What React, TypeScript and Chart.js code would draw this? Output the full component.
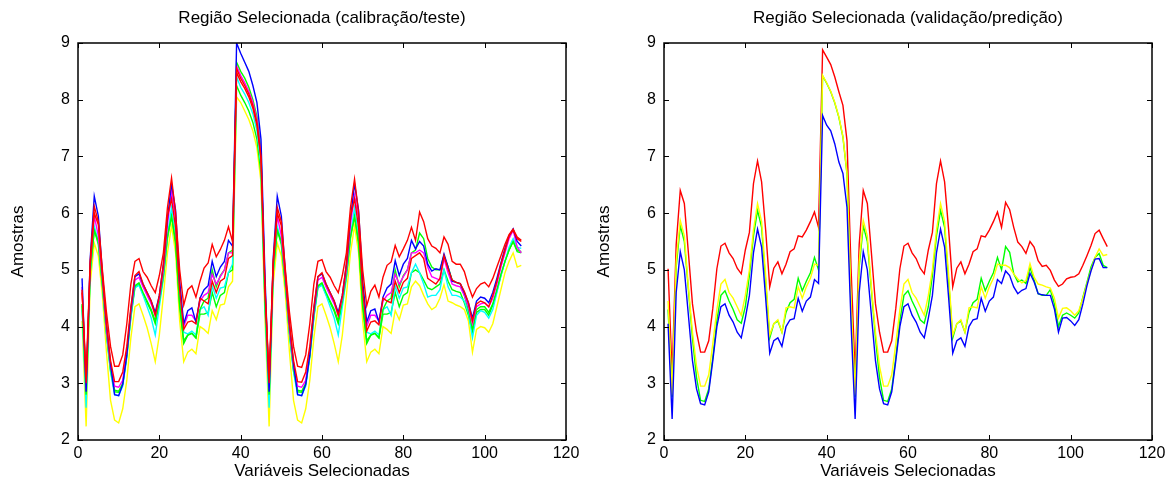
import React, { useEffect, useRef } from 'react';
import { Chart, registerables } from 'chart.js';

Chart.register(...registerables);

const FONT = '"Liberation Sans", Arial, Helvetica, sans-serif';

const variaveis = [
  1, 2, 3, 4, 5, 6, 7, 8, 9, 10, 11, 12, 13, 14, 15, 16, 17, 18, 19, 20,
  21, 22, 23, 24, 25, 26, 27, 28, 29, 30, 31, 32, 33, 34, 35, 36, 37, 38, 39, 40,
  41, 42, 43, 44, 45, 46, 47, 48, 49, 50, 51, 52, 53, 54, 55, 56, 57, 58, 59, 60,
  61, 62, 63, 64, 65, 66, 67, 68, 69, 70, 71, 72, 73, 74, 75, 76, 77, 78, 79, 80,
  81, 82, 83, 84, 85, 86, 87, 88, 89, 90, 91, 92, 93, 94, 95, 96, 97, 98, 99, 100,
  101, 102, 103, 104, 105, 106, 107, 108, 109,
];

const xTicks = [0, 20, 40, 60, 80, 100, 120];
const yTicks = [2, 3, 4, 5, 6, 7, 8, 9];

// ---- Left panel: calibração/teste ----
const calRed1 = [
  4.65, 3.1, 5.15, 6.12, 5.85, 5.0, 4.25, 3.65, 3.3, 3.3, 3.5, 4.05, 4.75, 5.15, 5.2, 4.97, 4.87, 4.72, 4.6, 4.9,
  5.3, 6.1, 6.62, 6.0, 5.0, 4.38, 4.65, 4.72, 4.52, 4.8, 5.03, 5.12, 5.45, 5.23, 5.36, 5.52, 5.76, 5.5,
  8.55, 8.38, 8.25, 8.1, 7.9, 7.6, 7.0,
  4.65, 3.1, 5.15, 6.1, 5.85, 5.0, 4.25, 3.65, 3.3, 3.28, 3.5, 4.05, 4.75, 5.15, 5.18, 4.97, 4.87, 4.72, 4.6, 4.9,
  5.3, 6.1, 6.6, 6.0, 5.0, 4.37, 4.62, 4.73, 4.52, 4.87, 5.08, 5.14, 5.43, 5.23, 5.37, 5.52, 5.75, 5.52,
  6.02, 5.85, 5.55, 5.42, 5.38, 5.3, 5.58, 5.45, 5.15, 5.1, 5.1, 4.97, 4.72, 4.52, 4.67, 4.75, 4.78, 4.7, 4.85, 5.05,
  5.25, 5.45, 5.62, 5.72, 5.58, 5.52,
];
const calRed2 = [
  4.6, 3.0, 5.1, 6.0, 5.8, 4.9, 4.05, 3.4, 3.03, 3.03, 3.2, 3.65, 4.35, 4.9, 4.97, 4.75, 4.6, 4.45, 4.2, 4.55,
  5.1, 5.95, 6.25, 5.75, 4.65, 3.95, 4.08, 4.1, 4.05, 4.5, 4.45, 4.4, 4.8, 4.6, 4.8, 4.85, 5.2, 5.25,
  8.48, 8.32, 8.2, 8.05, 7.85, 7.55, 6.95,
  4.6, 3.0, 5.1, 6.0, 5.78, 4.9, 4.05, 3.4, 3.03, 3.02, 3.2, 3.65, 4.35, 4.88, 4.95, 4.75, 4.6, 4.45, 4.2, 4.55,
  5.1, 5.95, 6.25, 5.75, 4.65, 3.92, 4.08, 4.1, 4.03, 4.5, 4.45, 4.42, 4.8, 4.6, 4.78, 4.85, 5.2, 5.25,
  5.3, 5.2, 4.85, 4.8, 4.75, 4.85, 5.25, 5.02, 4.82, 4.78, 4.76, 4.62, 4.42, 4.1, 4.4, 4.45, 4.42, 4.35, 4.55, 4.8,
  5.1, 5.35, 5.6, 5.7, 5.55, 5.5,
];
const calBlue = [
  4.85, 2.85, 5.2, 6.3, 5.95, 4.95, 4.05, 3.35, 2.8, 2.78, 2.98, 3.5, 4.3, 4.88, 4.93, 4.75, 4.6, 4.45, 4.25, 4.55,
  5.1, 5.9, 6.52, 6.05, 4.8, 4.05, 4.28, 4.33, 4.08, 4.5, 4.65, 4.72, 5.15, 4.88, 5.05, 5.15, 5.52, 5.42,
  9.0, 8.82, 8.66, 8.5, 8.25, 7.95, 7.3,
  4.85, 2.85, 5.2, 6.3, 5.95, 4.95, 4.05, 3.35, 2.8, 2.78, 2.98, 3.5, 4.3, 4.88, 4.93, 4.75, 4.6, 4.45, 4.25, 4.55,
  5.1, 5.9, 6.52, 6.05, 4.8, 4.08, 4.28, 4.31, 4.08, 4.52, 4.68, 4.75, 5.16, 4.9, 5.1, 5.2, 5.52, 5.37,
  5.5, 5.42, 5.1, 4.98, 5.02, 5.0, 5.28, 5.05, 4.8, 4.78, 4.76, 4.6, 4.42, 4.15, 4.45, 4.52, 4.5, 4.42, 4.6, 4.85,
  5.12, 5.38, 5.6, 5.72, 5.5, 5.42,
];
const calMagenta = [
  4.7, 2.9, 5.1, 5.95, 5.6, 4.85, 3.95, 3.3, 2.95, 2.93, 3.05, 3.55, 4.25, 4.82, 4.87, 4.7, 4.55, 4.4, 4.2, 4.5,
  5.0, 5.8, 6.37, 5.9, 4.7, 4.0, 4.2, 4.2, 4.1, 4.45, 4.55, 4.6, 4.92, 4.75, 4.88, 5.0, 5.3, 5.3,
  8.6, 8.43, 8.3, 8.15, 7.95, 7.65, 7.05,
  4.7, 2.9, 5.1, 5.95, 5.6, 4.85, 3.95, 3.3, 2.95, 2.93, 3.05, 3.55, 4.25, 4.82, 4.87, 4.7, 4.55, 4.4, 4.2, 4.5,
  5.0, 5.8, 6.31, 5.9, 4.7, 4.0, 4.2, 4.2, 4.1, 4.45, 4.55, 4.6, 4.92, 4.75, 4.88, 5.0, 5.3, 5.3,
  5.35, 5.3, 5.05, 4.88, 4.85, 4.82, 5.2, 4.95, 4.75, 4.72, 4.7, 4.55, 4.35, 4.05, 4.35, 4.4, 4.42, 4.35, 4.5, 4.75,
  5.05, 5.3, 5.55, 5.7, 5.4, 5.3,
];
const calGreen1 = [
  4.4, 2.8, 5.0, 5.7, 5.5, 4.75, 3.9, 3.25, 2.88, 2.86, 3.0, 3.5, 4.2, 4.72, 4.77, 4.6, 4.45, 4.3, 4.1, 4.45,
  4.9, 5.6, 5.94, 5.5, 4.4, 3.75, 3.85, 3.88, 3.8, 4.3, 4.45, 4.5, 5.0, 4.7, 4.9, 5.0, 5.3, 5.35,
  8.66, 8.5, 8.38, 8.22, 8.0, 7.7, 7.1,
  4.4, 2.8, 5.0, 5.7, 5.5, 4.75, 3.9, 3.25, 2.88, 2.86, 3.0, 3.5, 4.2, 4.72, 4.77, 4.6, 4.45, 4.3, 4.1, 4.45,
  4.9, 5.6, 5.93, 5.5, 4.4, 3.75, 3.85, 3.88, 3.8, 4.3, 4.45, 4.5, 5.0, 4.7, 4.9, 5.0, 5.3, 5.35,
  5.65, 5.55, 5.2, 5.05, 5.0, 5.0, 5.25, 5.05, 4.82, 4.78, 4.75, 4.55, 4.3, 3.95, 4.3, 4.35, 4.35, 4.25, 4.4, 4.65,
  4.92, 5.15, 5.35, 5.5, 5.35, 5.32,
];
const calGreen2 = [
  4.37, 2.76, 4.95, 5.7, 5.45, 4.72, 3.88, 3.22, 2.85, 2.84, 2.98, 3.48, 4.18, 4.7, 4.74, 4.57, 4.42, 4.27, 4.05, 4.42,
  4.88, 5.55, 5.96, 5.45, 4.35, 3.7, 3.85, 3.88, 3.8, 4.22, 4.22, 4.25, 4.6, 4.35, 4.55, 4.6, 4.95, 5.0,
  8.25, 8.08, 7.95, 7.8, 7.6, 7.3, 6.7,
  4.37, 2.76, 4.95, 5.7, 5.45, 4.72, 3.88, 3.22, 2.85, 2.84, 2.98, 3.48, 4.18, 4.7, 4.74, 4.57, 4.42, 4.27, 4.05, 4.42,
  4.88, 5.55, 5.96, 5.45, 4.35, 3.7, 3.85, 3.88, 3.8, 4.22, 4.22, 4.25, 4.6, 4.35, 4.55, 4.6, 4.95, 5.0,
  4.95, 4.82, 4.68, 4.65, 4.7, 4.75, 5.0, 4.8, 4.65, 4.62, 4.6, 4.42, 4.2, 3.9, 4.25, 4.3, 4.3, 4.2, 4.38, 4.62,
  4.9, 5.15, 5.35, 5.5, 5.32, 5.3,
];
const calCyan = [
  4.3, 2.57, 4.95, 5.77, 5.5, 4.75, 3.85, 3.2, 2.8, 2.78, 2.95, 3.45, 4.15, 4.68, 4.73, 4.55, 4.35, 4.15, 3.85, 4.35,
  4.85, 5.6, 6.1, 5.6, 4.5, 3.9, 3.87, 3.92, 3.85, 4.3, 4.35, 4.2, 4.72, 4.5, 4.68, 4.7, 4.95, 5.1,
  8.4, 8.22, 8.1, 7.95, 7.75, 7.45, 6.85,
  4.3, 2.57, 4.95, 5.77, 5.5, 4.75, 3.85, 3.2, 2.8, 2.78, 2.95, 3.45, 4.15, 4.68, 4.73, 4.55, 4.35, 4.15, 3.85, 4.35,
  4.85, 5.6, 6.1, 5.6, 4.5, 3.9, 3.87, 3.92, 3.85, 4.3, 4.35, 4.2, 4.72, 4.5, 4.68, 4.7, 4.95, 5.1,
  4.95, 4.75, 4.52, 4.55, 4.55, 4.65, 5.0, 4.7, 4.55, 4.55, 4.52, 4.45, 4.25, 3.8, 4.2, 4.28, 4.25, 4.15, 4.3, 4.6,
  4.9, 5.15, 5.4, 5.55, 5.4, 5.38,
];
const calYellow = [
  4.1, 2.24, 4.75, 5.47, 5.25, 4.55, 3.55, 2.7, 2.35, 2.3, 2.55, 3.05, 3.8, 4.35, 4.4, 4.2, 3.98, 3.7, 3.38, 3.85,
  4.55, 5.3, 5.78, 5.3, 4.1, 3.38, 3.55, 3.6, 3.52, 4.0, 3.95, 3.88, 4.28, 4.12, 4.38, 4.4, 4.7, 4.8,
  8.05, 7.95, 7.8, 7.65, 7.45, 7.15, 6.55,
  4.1, 2.24, 4.75, 5.47, 5.25, 4.55, 3.55, 2.7, 2.35, 2.3, 2.55, 3.05, 3.8, 4.35, 4.4, 4.2, 3.98, 3.7, 3.38, 3.85,
  4.55, 5.3, 5.78, 5.3, 4.1, 3.38, 3.55, 3.6, 3.52, 4.0, 3.95, 3.88, 4.28, 4.12, 4.38, 4.4, 4.7, 4.8,
  4.72, 4.55, 4.4, 4.3, 4.35, 4.5, 4.74, 4.45, 4.42, 4.38, 4.35, 4.3, 4.1, 3.55, 3.95, 4.0, 3.98, 3.9, 4.05, 4.35,
  4.65, 4.95, 5.15, 5.3, 5.05, 5.08,
];

// ---- Right panel: validação/predição ----
const valRed = [
  5.02, 3.16, 5.45, 6.4, 6.17, 5.3, 4.4, 3.9, 3.55, 3.55, 3.75, 4.32, 5.02, 5.42, 5.47, 5.3, 5.2, 5.03, 4.93, 5.35,
  5.66, 6.52, 6.92, 6.55, 5.7, 4.7, 5.03, 5.14, 4.93, 5.1, 5.32, 5.37, 5.6, 5.58, 5.7, 5.85, 6.02, 5.75,
  8.88, 8.75, 8.62, 8.4, 8.14, 7.9, 7.28,
  5.02, 3.16, 5.45, 6.4, 6.17, 5.3, 4.4, 3.9, 3.55, 3.55, 3.75, 4.32, 5.02, 5.42, 5.47, 5.3, 5.2, 5.03, 4.93, 5.35,
  5.66, 6.52, 6.92, 6.55, 5.7, 4.7, 5.03, 5.14, 4.93, 5.1, 5.32, 5.37, 5.6, 5.58, 5.7, 5.85, 6.02, 5.75,
  6.19, 6.06, 5.75, 5.49, 5.41, 5.29, 5.5, 5.4, 5.16, 5.06, 5.08, 4.99, 4.82, 4.71, 4.75, 4.84, 4.87, 4.88, 4.93, 5.08,
  5.25, 5.43, 5.64, 5.7, 5.55, 5.41,
];
const valYellow = [
  4.45, 2.8, 5.15, 5.87, 5.6, 4.7, 3.9, 3.3, 2.95, 2.95, 3.15, 3.7, 4.3, 4.75, 4.83, 4.6, 4.5, 4.35, 4.2, 4.55,
  5.0, 5.7, 6.17, 5.85, 4.9, 3.85, 4.05, 4.12, 3.9, 4.33, 4.35, 4.33, 4.7, 4.5, 4.7, 4.85, 5.1, 5.08,
  8.43, 8.3, 8.15, 7.95, 7.7, 7.35, 6.7,
  4.45, 2.8, 5.15, 5.87, 5.6, 4.7, 3.9, 3.3, 2.95, 2.95, 3.15, 3.7, 4.3, 4.75, 4.83, 4.6, 4.5, 4.35, 4.2, 4.55,
  5.0, 5.7, 6.17, 5.85, 4.9, 3.85, 4.05, 4.12, 3.9, 4.33, 4.35, 4.33, 4.7, 4.5, 4.7, 4.85, 5.1, 5.08,
  5.08, 5.04, 4.93, 4.84, 4.77, 4.81, 5.11, 4.87, 4.75, 4.73, 4.7, 4.68, 4.5, 4.15, 4.32, 4.33, 4.28, 4.2, 4.28, 4.5,
  4.75, 4.99, 5.22, 5.37, 5.25, 5.27,
];
const valGreen = [
  4.3, 2.76, 5.05, 5.78, 5.5, 4.65, 3.8, 3.1, 2.7, 2.68, 2.9, 3.45, 4.1, 4.55, 4.63, 4.45, 4.3, 4.12, 4.06, 4.35,
  4.9, 5.6, 6.05, 5.75, 4.8, 3.8, 4.05, 4.1, 3.9, 4.25, 4.42, 4.48, 4.85, 4.63, 4.8, 4.95, 5.22, 5.0,
  8.42, 8.29, 8.14, 7.94, 7.69, 7.34, 6.69,
  4.3, 2.76, 5.05, 5.78, 5.5, 4.65, 3.8, 3.1, 2.7, 2.68, 2.9, 3.45, 4.1, 4.55, 4.63, 4.45, 4.3, 4.12, 4.06, 4.35,
  4.9, 5.6, 6.05, 5.75, 4.8, 3.8, 4.05, 4.1, 3.9, 4.25, 4.42, 4.48, 4.85, 4.63, 4.8, 4.95, 5.22, 5.0,
  5.41, 5.31, 4.93, 4.79, 4.82, 4.76, 5.04, 4.82, 4.58, 4.55, 4.55, 4.65, 4.4, 4.0, 4.2, 4.24, 4.2, 4.15, 4.24, 4.52,
  4.78, 5.05, 5.22, 5.29, 5.08, 5.04,
];
const valBlue = [
  4.05, 2.37, 4.6, 5.32, 5.0, 4.2, 3.4, 2.9, 2.64, 2.62, 2.85, 3.4, 4.0, 4.35, 4.4, 4.2, 4.08, 3.9, 3.8, 4.15,
  4.55, 5.3, 5.72, 5.4, 4.5, 3.53, 3.75, 3.8, 3.65, 4.0, 4.12, 4.14, 4.5, 4.27, 4.45, 4.52, 4.83, 4.76,
  7.72, 7.55, 7.45, 7.22, 6.9, 6.7, 6.1,
  4.05, 2.37, 4.6, 5.32, 5.0, 4.2, 3.4, 2.9, 2.64, 2.62, 2.85, 3.4, 4.0, 4.35, 4.4, 4.2, 4.08, 3.9, 3.8, 4.15,
  4.55, 5.3, 5.72, 5.4, 4.5, 3.53, 3.75, 3.8, 3.65, 4.0, 4.12, 4.14, 4.5, 4.27, 4.45, 4.52, 4.83, 4.76,
  4.98, 4.9, 4.7, 4.58, 4.64, 4.67, 4.94, 4.79, 4.58, 4.56, 4.55, 4.55, 4.31, 3.9, 4.15, 4.16, 4.1, 4.02, 4.12, 4.4,
  4.72, 4.98, 5.19, 5.2, 5.04, 5.04,
];

type Serie = { values: number[]; color: string };

const leftSeries: Serie[] = [
  { values: calRed1, color: '#ff0000' },
  { values: calRed2, color: '#ff0000' },
  { values: calBlue, color: '#0000ff' },
  { values: calMagenta, color: '#ff00ff' },
  { values: calGreen1, color: '#00ff00' },
  { values: calCyan, color: '#00ffff' },
  { values: calGreen2, color: '#00ff00' },
  { values: calYellow, color: '#ffff00' },
];

const rightSeries: Serie[] = [
  { values: valBlue, color: '#0000ff' },
  { values: valYellow, color: '#ffff00' },
  { values: valGreen, color: '#00ff00' },
  { values: valRed, color: '#ff0000' },
];

const boxTicks = {
  id: 'boxTicks',
  afterDatasetsDraw(chart: any) {
    const { ctx, chartArea, scales } = chart;
    const { left, right, top, bottom } = chartArea;
    const xs = scales.x;
    const ys = scales.y;
    ctx.save();
    ctx.strokeStyle = '#000';
    ctx.lineWidth = 1;
    ctx.beginPath();
    xTicks.forEach((v) => {
      const px = Math.round(xs.getPixelForValue(v)) + 0.5;
      ctx.moveTo(px, bottom);
      ctx.lineTo(px, bottom - 5);
      ctx.moveTo(px, top);
      ctx.lineTo(px, top + 5);
    });
    yTicks.forEach((v) => {
      const py = Math.round(ys.getPixelForValue(v)) + 0.5;
      ctx.moveTo(left, py);
      ctx.lineTo(left + 5, py);
      ctx.moveTo(right, py);
      ctx.lineTo(right - 5, py);
    });
    ctx.stroke();
    ctx.lineWidth = 1.5;
    ctx.strokeRect(left, top, right - left, bottom - top);
    ctx.restore();
  },
};

function Panel({ title, series, left }: { title: string; series: Serie[]; left: number }) {
  const ref = useRef<HTMLCanvasElement | null>(null);
  useEffect(() => {
    if (!ref.current) return;
    const chart = new Chart(ref.current, {
      type: 'line',
      data: {
        datasets: series.map((s, k) => ({
          label: 'amostra ' + (k + 1),
          data: variaveis.map((v, i) => ({ x: v, y: s.values[i] })),
          borderColor: s.color,
          backgroundColor: s.color,
          borderWidth: 1.4,
          pointRadius: 0,
          fill: false,
          tension: 0,
        })),
      },
      options: {
        animation: false,
        responsive: false,
        maintainAspectRatio: false,
        layout: { padding: { left: 0, right: 18, top: 0, bottom: 0 } },
        plugins: {
          legend: { display: false },
          tooltip: { enabled: false },
          title: {
            display: true,
            text: title,
            color: '#000',
            fullSize: false,
            font: { family: FONT, size: 17, weight: 'normal', lineHeight: 1.2 },
            padding: { top: 8, bottom: 14.6 },
          },
        },
        scales: {
          x: {
            type: 'linear',
            min: 0,
            max: 120,
            afterBuildTicks: (s: any) => {
              s.ticks = xTicks.map((v) => ({ value: v }));
            },
            ticks: {
              color: '#000',
              font: { family: FONT, size: 16 },
              padding: 4,
              maxRotation: 0,
            },
            grid: { display: false, drawTicks: false },
            border: { display: false },
            title: {
              display: true,
              text: 'Variáveis Selecionadas',
              color: '#000',
              font: { family: FONT, size: 17, lineHeight: 1.2 },
              padding: { top: 0, bottom: 1.8 },
            },
            afterFit: (s: any) => {
              s.height = 43;
            },
          },
          y: {
            type: 'linear',
            min: 2,
            max: 9,
            afterBuildTicks: (s: any) => {
              s.ticks = yTicks.map((v) => ({ value: v }));
            },
            ticks: {
              color: '#000',
              font: { family: FONT, size: 16 },
              padding: 8,
            },
            grid: { display: false, drawTicks: false },
            border: { display: false },
            title: {
              display: true,
              text: 'Amostras',
              color: '#000',
              font: { family: FONT, size: 17, lineHeight: 1.2 },
              padding: { top: 7.8, bottom: 0 },
            },
            afterFit: (s: any) => {
              s.width = 78;
            },
          },
        },
      },
      plugins: [boxTicks],
    } as any);
    return () => chart.destroy();
  }, [title, series]);
  return (
    <canvas
      ref={ref}
      width={584}
      height={483}
      style={{ position: 'absolute', left, top: 0, width: 584, height: 483, display: 'block' }}
    />
  );
}

export default function App() {
  return (
    <div
      style={{
        position: 'fixed',
        left: 0,
        top: 0,
        width: 1170,
        height: 483,
        background: '#ffffff',
        overflow: 'hidden',
      }}
    >
      <Panel title="Região Selecionada (calibração/teste)" series={leftSeries} left={0} />
      <Panel title="Região Selecionada (validação/predição)" series={rightSeries} left={586} />
    </div>
  );
}
